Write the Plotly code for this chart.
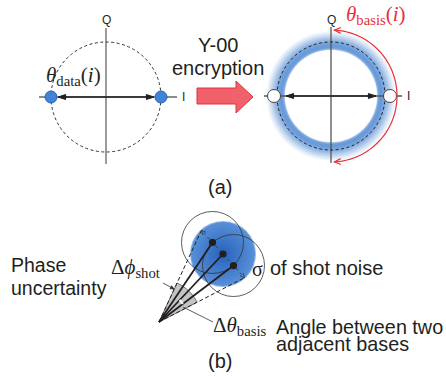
import numpy as np
import plotly.graph_objects as go

W, H = 446, 377
SANS = "Arial, Liberation Sans, sans-serif"
SERIF = "Times New Roman, Liberation Serif, serif"
INK = "#231f20"
RED = "#e8303a"
BLUE = (62, 126, 206)

# ---- panel (a): two I/Q constellations ----
left_center = (106, 97)
right_center = (331, 96)
circle_r = 55                      # radius of the dashed unit circle
q_axis_span = (-69, 67)            # top / bottom of Q axis, relative to centre
i_axis_span = (-67, 71)            # left / right of I axis, relative to centre
symbol_r = 6                       # radius of constellation points
basis_arc_r = 66                   # red arc that marks theta_basis
basis_arc_deg = (87, -87)

# radial profile of the blurred basis ring: (radius, intensity)
ring_profile_r = [46, 47, 48.5, 50, 52, 54, 56, 58, 60, 62, 64, 65.5]
ring_profile_i = [0.0, 0.55, 0.75, 0.78, 0.74, 0.66, 0.55, 0.43, 0.3, 0.18, 0.07, 0.0]

# ---- panel (b): shot-noise geometry ----
apex = (159, 322)
noise_center = (223, 254)
noise_sigma = 32
neighbour_step = 15.6
neighbour_dir = (0.674, 0.739)
wedge_r = 43

shapes = []
annotations = []


def rgb(t, base=BLUE):
    t = float(np.clip(t, 0, 1))
    return "rgb({},{},{})".format(*[int(round(255 + (c - 255) * t)) for c in base])


def circle(cx, cy, r, fill=None, color=None, width=1, dash="solid"):
    shapes.append(dict(type="circle", xref="x", yref="y",
                       x0=cx - r, x1=cx + r, y0=cy - r, y1=cy + r,
                       fillcolor=fill if fill else "rgba(0,0,0,0)",
                       line=dict(color=color if color else "rgba(0,0,0,0)",
                                 width=width if color else 0, dash=dash)))


def line(p0, p1, color=INK, width=1, dash="solid"):
    shapes.append(dict(type="line", xref="x", yref="y",
                       x0=p0[0], y0=p0[1], x1=p1[0], y1=p1[1],
                       line=dict(color=color, width=width, dash=dash)))


def path(pts, closed=False, fill=None, color=INK, width=1):
    d = "M " + " L ".join(f"{x:.2f},{y:.2f}" for x, y in pts) + (" Z" if closed else "")
    shapes.append(dict(type="path", xref="x", yref="y", path=d,
                       fillcolor=fill if fill else "rgba(0,0,0,0)",
                       line=dict(color=color, width=width)))


def head(tip, ang, length=7, spread=20, color=INK, width=1, filled=True):
    a1 = ang + np.pi - np.radians(spread)
    a2 = ang + np.pi + np.radians(spread)
    p1 = (tip[0] + length * np.cos(a1), tip[1] + length * np.sin(a1))
    p2 = (tip[0] + length * np.cos(a2), tip[1] + length * np.sin(a2))
    if filled:
        path([p1, tip, p2], closed=True, fill=color, color=color, width=width)
    else:
        path([p1, tip, p2], color=color, width=width)


def text(x, y, s, size=20, anchor="center", color=INK, family=SANS):
    annotations.append(dict(x=x, y=y, xref="x", yref="y", text=s, showarrow=False,
                            xanchor=anchor, yanchor="middle", borderpad=0,
                            font=dict(size=size, color=color, family=family)))


def iq_axes(c, gray="#666"):
    cx, cy = c
    line((cx, cy + q_axis_span[0]), (cx, cy + q_axis_span[1]), gray, 1.3)
    line((cx + i_axis_span[0], cy), (cx + i_axis_span[1], cy), gray, 1.3)
    text(cx, 20, "Q", 12)
    text(cx + i_axis_span[1] + 6, cy, "I", 12)


def double_arrow(c, half=48):
    cx, cy = c
    line((cx - half + 4, cy), (cx + half - 4, cy), INK, 1.6)
    head((cx + half, cy), 0, 8, 18)
    head((cx - half, cy), np.pi, 8, 18)


# --- left constellation (data) ---
iq_axes(left_center)
circle(*left_center, circle_r, color="#333", width=1, dash="3px,2.5px")
double_arrow(left_center)
for s in (-1, 1):
    circle(left_center[0] + s * circle_r, left_center[1], symbol_r,
           fill="#3f84d6", color="#2a62ad", width=1)
text(45, 76, "<i>θ</i><sub>data</sub>(<i>i</i>)", 21, anchor="left", family=SERIF)

# --- encryption arrow ---
arrow_body = [(197, 88), (236, 88), (236, 81), (253, 97), (236, 113), (236, 104), (197, 104)]
path(arrow_body, closed=True, fill="#f0616c", color="#e2323f", width=1)
text(218, 45, "Y-00", 20)
text(218, 68, "encryption", 20)

# --- right constellation (blurred basis ring) ---
rc = right_center
radii = np.arange(65.5, 45.5, -0.5)
for r in radii:
    circle(*rc, r, fill=rgb(np.interp(r, ring_profile_r, ring_profile_i)))
circle(*rc, 45.5, fill="white")
iq_axes(rc, "#555")
circle(*rc, circle_r - 1, color="#222", width=1, dash="3px,2.5px")
double_arrow(rc, 45)
for s in (-1, 1):
    circle(rc[0] + s * (circle_r + 4) + (2 if s < 0 else 0), rc[1], symbol_r + 0.5,
           fill="white", color="#444", width=1)

# red arc for theta_basis
angs = np.radians(np.linspace(basis_arc_deg[0], basis_arc_deg[1], 80))
arc = [(rc[0] + basis_arc_r * np.cos(a), rc[1] - basis_arc_r * np.sin(a)) for a in angs]
path(arc, color=RED, width=1.2)
a0, a1 = angs[0], angs[-1]
head(arc[0], np.arctan2(-np.cos(a0), -np.sin(a0)), 7, 25, RED, 1.2, filled=False)
head(arc[-1], np.arctan2(np.cos(a1), np.sin(a1)), 7, 25, RED, 1.2, filled=False)
text(345, 15, "<i>θ</i><sub>basis</sub>(<i>i</i>)", 21, anchor="left", color=RED, family=SERIF)

text(220, 187, "(a)", 20)

# ---- panel (b) ----
d = np.array(neighbour_dir)
c2 = np.array(noise_center, dtype=float)
c1 = c2 - neighbour_step * d
c3 = c2 + neighbour_step * d
p_top = c2 - noise_sigma * d
p_bot = c2 + noise_sigma * d

# shot-noise blob with radial shading
circle(*c2, noise_sigma + 1, fill="rgb(150,184,232)")
for r in np.arange(noise_sigma, 0, -1):
    t = r / noise_sigma
    col = (int(38 + 50 * t), int(98 + 46 * t), int(186 + 30 * t))
    circle(*c2, r, fill="rgb({},{},{})".format(*col))
for c in (c1, c3):
    circle(*c, noise_sigma - 1, color="#333", width=0.8)

# phase-uncertainty wedge
ang_top = np.arctan2(p_top[1] - apex[1], p_top[0] - apex[0])
ang_bot = np.arctan2(p_bot[1] - apex[1], p_bot[0] - apex[0])
wedge = [apex] + [(apex[0] + wedge_r * np.cos(a), apex[1] + wedge_r * np.sin(a))
                  for a in np.linspace(ang_top, ang_bot, 6)]
path(wedge, closed=True, fill="#c4c4c4", color="#666", width=0.9)

line(apex, p_top, "#222", 1, "4px,2.5px")
line(apex, p_bot, "#222", 1, "4px,2.5px")
for c in (c1, c2, c3):
    line(apex, c, INK, 1.8)

# small basis-angle marker between neighbouring bases
ang2 = np.arctan2(c2[1] - apex[1], c2[0] - apex[0])
ang3 = np.arctan2(c3[1] - apex[1], c3[0] - apex[0])
mark = [(apex[0] + 30 * np.cos(a), apex[1] + 30 * np.sin(a)) for a in np.linspace(ang2, ang3, 6)]
path(mark, color="white", width=2.2)

# sigma indicator through the three points
line(p_top + 3 * d, p_bot - 3 * d, "#333", 0.8, "dot")
phi = np.arctan2(d[1], d[0])
head(tuple(p_bot), phi, 5, 25, "#333", 0.8, filled=False)
head(tuple(p_top), phi + np.pi, 5, 25, "#333", 0.8, filled=False)

for c in (c1, c2, c3):
    circle(*c, 3.6, fill=INK)

# leaders
line((163, 283), (174, 289), "#333", 0.8)
head((174, 289), np.arctan2(6, 11), 4, 25, "#333", 0.8)
line((183, 307), (213, 322), "#333", 0.8)

text(10, 265, "Phase", 19.5, anchor="left")
text(10, 288, "uncertainty", 19.5, anchor="left")
text(110, 268, "Δ<i>ϕ</i><sub>shot</sub>", 21, anchor="left", family=SERIF)
text(251, 269, "σ", 20, anchor="left", family=SERIF)
text(269, 268, "of shot noise", 20, anchor="left")
text(212, 326, "Δ<i>θ</i><sub>basis</sub>", 21, anchor="left", family=SERIF)
text(275, 327, "Angle between two", 19.8, anchor="left")
text(275, 344, "adjacent bases", 19.8, anchor="left")
text(220, 361, "(b)", 20)

fig = go.Figure()
fig.add_trace(go.Scatter(x=[0, W], y=[0, H], mode="markers",
                         marker=dict(opacity=0), hoverinfo="skip", showlegend=False))
fig.update_layout(
    width=W, height=H, margin=dict(l=0, r=0, t=0, b=0),
    paper_bgcolor="white", plot_bgcolor="white",
    xaxis=dict(range=[0, W], visible=False, fixedrange=True),
    yaxis=dict(range=[H, 0], visible=False, fixedrange=True),
    shapes=shapes, annotations=annotations, showlegend=False,
)
fig.write_html("out.html")
